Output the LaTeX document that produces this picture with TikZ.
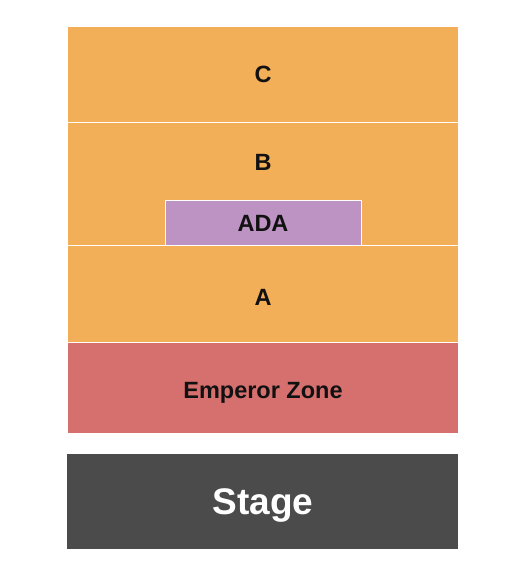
\documentclass[tikz,border=0pt]{standalone}
\usepackage{fontspec}
\setmainfont{Liberation Sans}
\definecolor{seatorange}{HTML}{F3AE58}
\definecolor{seatpurple}{HTML}{BC93C3}
\definecolor{seatred}{HTML}{D6706F}
\definecolor{stagegray}{HTML}{4B4B4B}
\definecolor{labelink}{HTML}{111111}
\tikzset{
  section/.style={draw=white, line width=0.8pt},
  seatlabel/.style={font=\bfseries\fontsize{23.5}{28}\selectfont, text=labelink, inner sep=0pt, anchor=base},
}
\begin{document}
\begin{tikzpicture}[x=1pt,y=-1pt]
        \useasboundingbox (0,0) rectangle (525,575);
        % section C
        \draw[section, fill=seatorange] (67,26) rectangle (458,122.5);
        % section B
        \draw[section, fill=seatorange] (67,122.5) rectangle (458,245.5);
        % ADA platform
        \draw[section, fill=seatpurple] (165.5,200.5) rectangle (361.5,245.5);
        % section A
        \draw[section, fill=seatorange] (67,245.5) rectangle (458,342.5);
        % emperor zone
        \draw[section, fill=seatred] (67,342.5) rectangle (458,433);
        % stage
        \draw[fill=stagegray, draw=none] (67,454) rectangle (458,549);
        % labels
        \node[seatlabel] (labelC) at (263,83) {C};
        \node[seatlabel] (labelB) at (263,170) {B};
        \node[seatlabel] (labelADA) at (263,231.5) {ADA};
        \node[seatlabel] (labelA) at (263,305.5) {A};
        \node[seatlabel] (labelEmperor) at (263,398) {Emperor Zone};
        \node[seatlabel, text=white, font=\bfseries\fontsize{37}{44}\selectfont] (labelStage) at (263,514.5) {Stage};
    \end{tikzpicture}
\end{document}
